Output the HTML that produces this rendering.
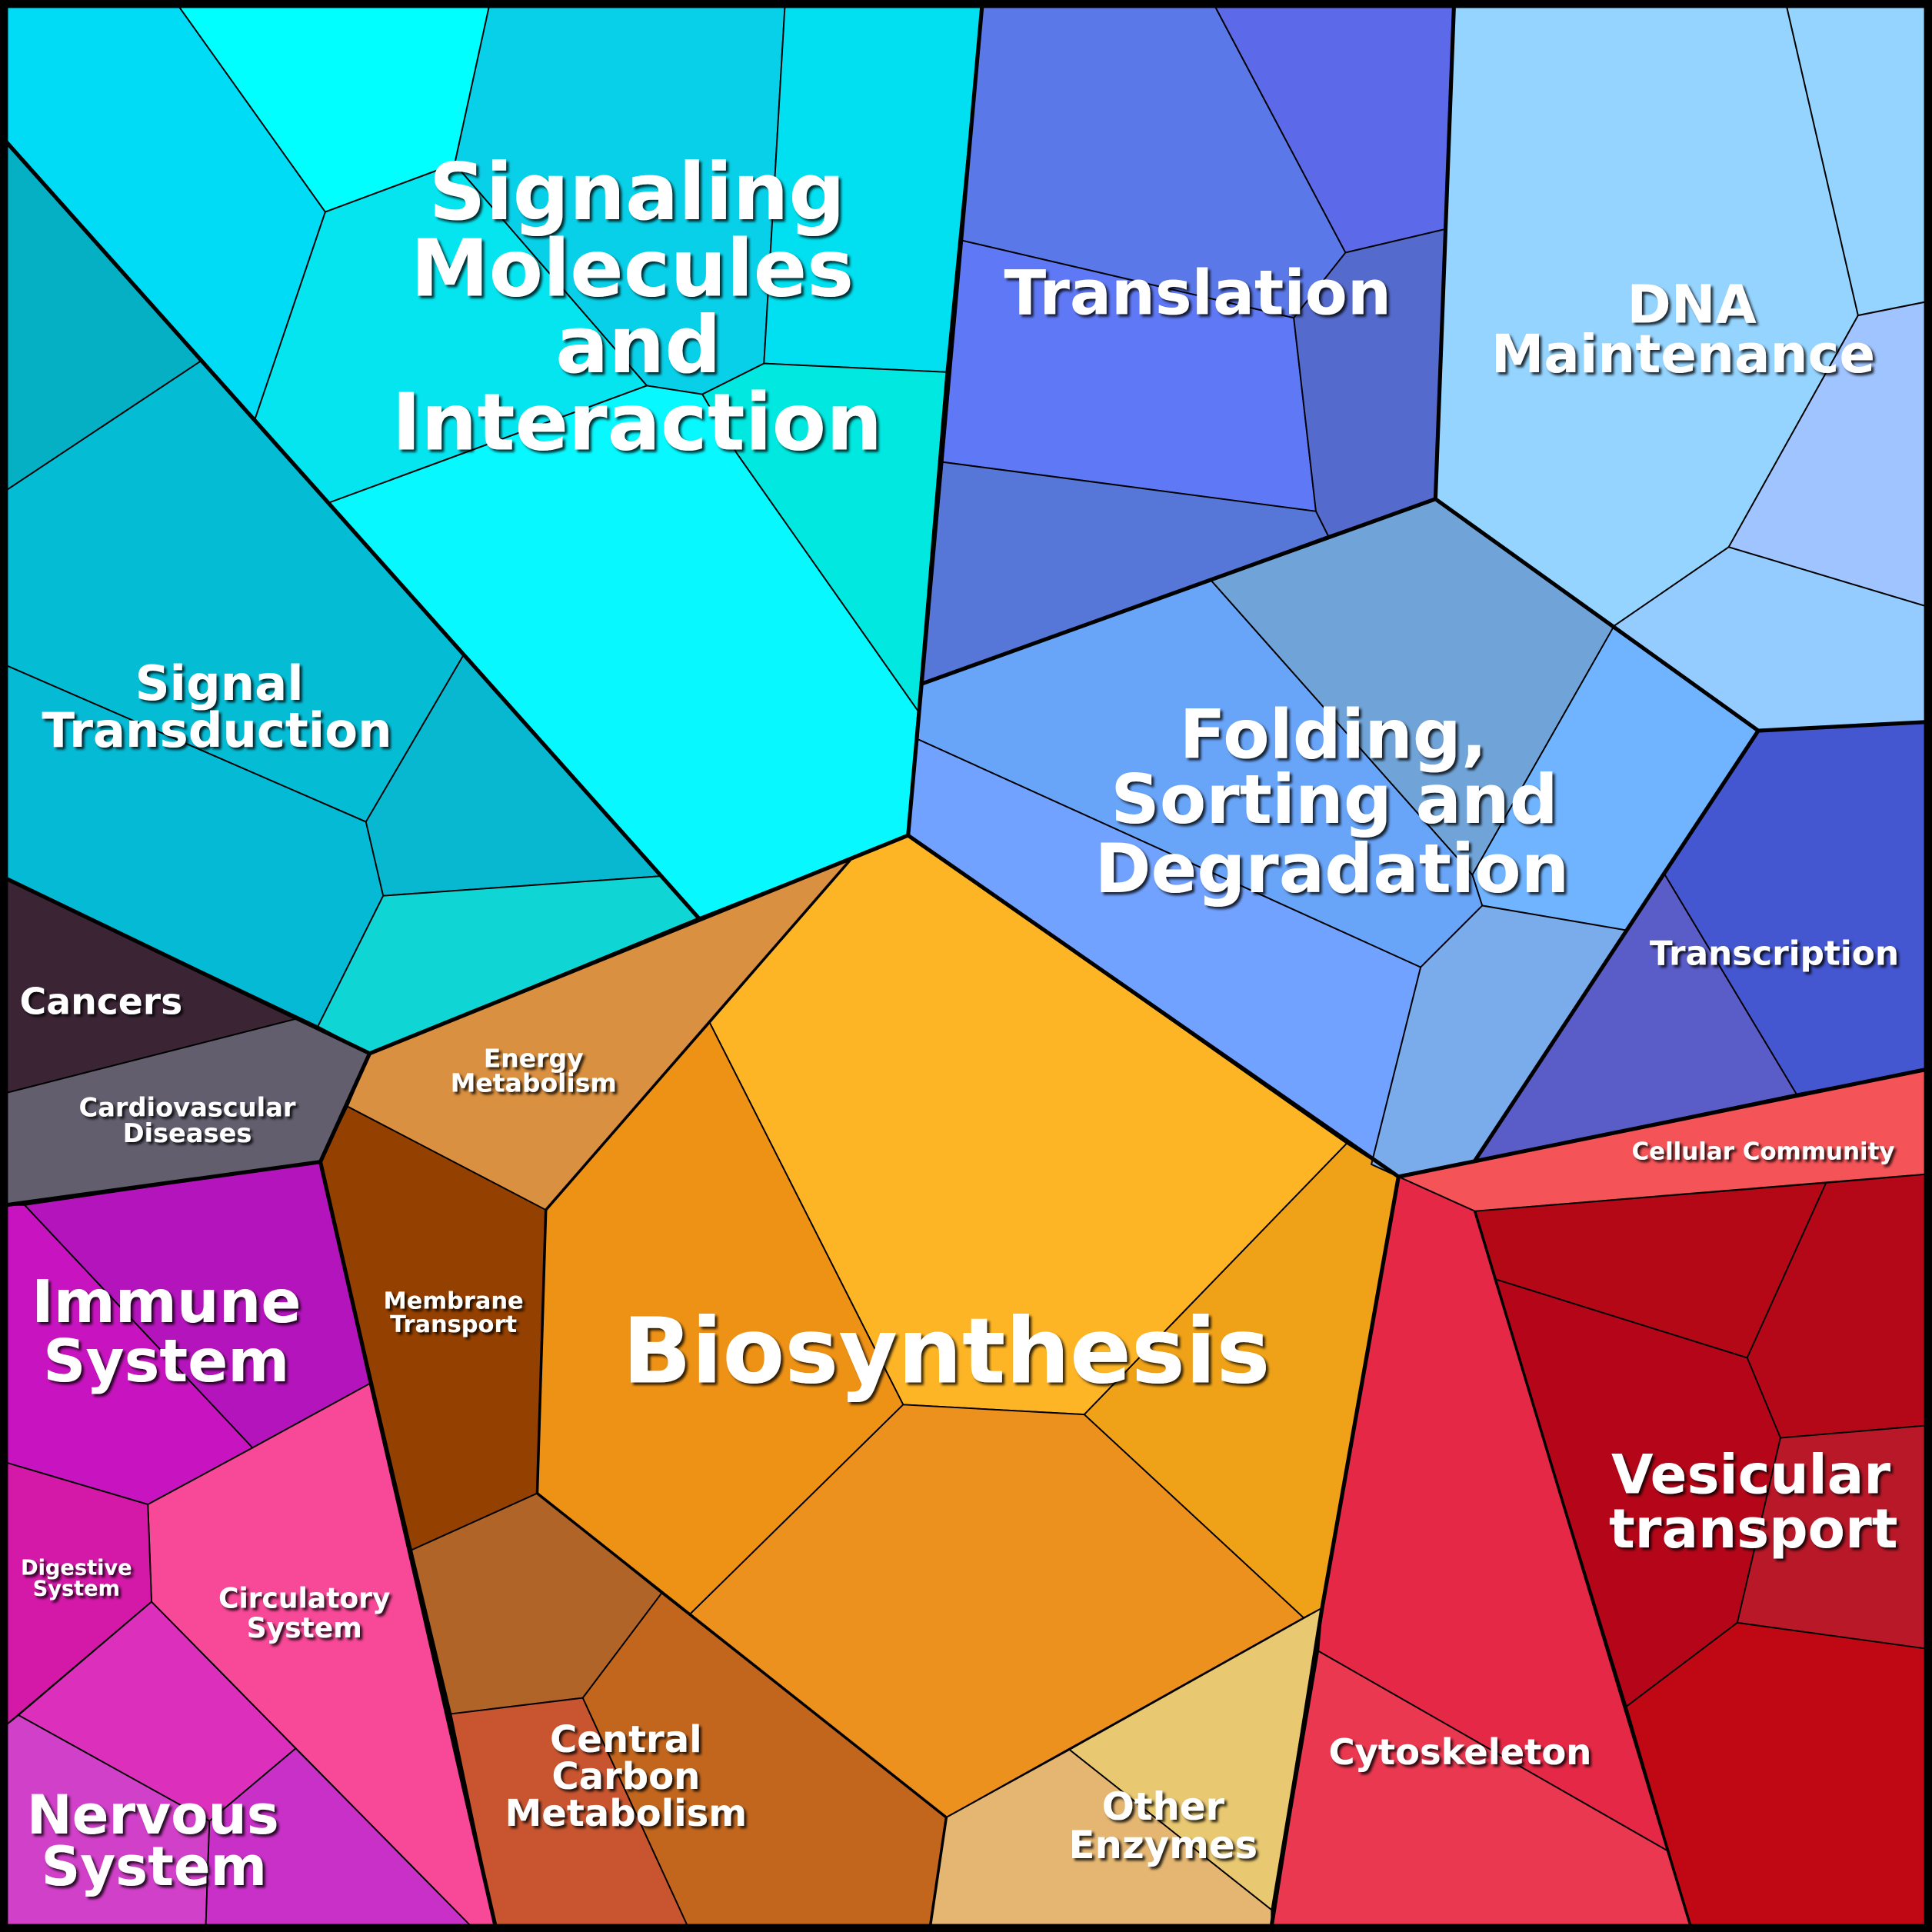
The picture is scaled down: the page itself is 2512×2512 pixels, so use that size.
<!DOCTYPE html>
<html><head><meta charset="utf-8"><style>
html,body{margin:0;padding:0;background:#000}
svg{display:block}
text{font-family:"DejaVu Sans","Liberation Sans",sans-serif;font-weight:bold;fill:#fff;text-anchor:middle}
</style></head><body>
<svg width="2512" height="2512" viewBox="0 0 1568 1568" xmlns="http://www.w3.org/2000/svg">
<defs><filter id="sh" x="-10%" y="-10%" width="120%" height="130%"><feDropShadow dx="2" dy="2" stdDeviation="1" flood-color="#000" flood-opacity="0.8"/></filter></defs>
<rect width="1568" height="1568" fill="#000"/>
<g stroke="#000" stroke-width="1.2" stroke-linejoin="round">
<polygon fill="#00dcf5" points="5,5 145,5 264,172 207,340 163,293 5,115"/>
<polygon fill="#00ffff" points="145,5 397,5 369,133 264,172"/>
<polygon fill="#05e5f0" points="264,172 369,133 525,313 267,408 207,340"/>
<polygon fill="#08d0e8" points="369,133 397,5 637,5 620,295 570,320 525,313"/>
<polygon fill="#00e0f0" points="637,5 797,5 768,302 620,295"/>
<polygon fill="#00e8e0" points="620,295 768,302 745,577 598,368 570,320"/>
<polygon fill="#08f8ff" points="267,408 525,313 570,320 598,368 745,577 737,678 567,745"/>
<polygon fill="#05b0c5" points="5,115 163,293 5,398"/>
<polygon fill="#05bcd5" points="5,398 163,293 376,532 297,667 5,540"/>
<polygon fill="#05bad5" points="5,540 297,667 311,727 258,833 5,713"/>
<polygon fill="#08b8d0" points="376,532 537,711 311,727 297,667"/>
<polygon fill="#10d5d5" points="311,727 537,711 567,745 300,855 258,833"/>
<polygon fill="#3b2535" points="5,713 240,827 5,887"/>
<polygon fill="#625e6e" points="5,887 240,827 300,855 260,943 5,978"/>
<polygon fill="#c814c0" points="5,978 20,978 205,1175 120,1221 5,1187"/>
<polygon fill="#b414bc" points="20,978 260,943 300,1123 205,1175"/>
<polygon fill="#f84898" points="120,1221 205,1175 300,1123 402,1563 382,1563 123,1300"/>
<polygon fill="#d418a8" points="5,1187 120,1221 123,1300 5,1400"/>
<polygon fill="#dc30bc" points="123,1300 240,1419 170,1478 15,1392"/>
<polygon fill="#d040c8" points="5,1400 15,1392 170,1478 167,1563 5,1563"/>
<polygon fill="#c830c8" points="170,1478 240,1419 382,1563 167,1563"/>
<polygon fill="#d99040" points="300,855 567,745 690,698 443,982 282,898"/>
<polygon fill="#944000" points="282,898 443,982 436,1212 334,1258 260,943"/>
<polygon fill="#b06428" points="334,1258 436,1212 537,1293 473,1378 366,1391"/>
<polygon fill="#c85530" points="366,1391 473,1378 558,1563 402,1563"/>
<polygon fill="#c2661e" points="473,1378 537,1293 768,1475 755,1563 558,1563"/>
<polygon fill="#fdb526" points="690,698 737,678 1093,928 880,1148 733,1140 576,830"/>
<polygon fill="#ee9216" points="443,982 576,830 733,1140 560,1310 436,1212"/>
<polygon fill="#efa218" points="1093,928 1135,955 1073,1305 1058,1313 880,1148"/>
<polygon fill="#ec901e" points="560,1310 733,1140 880,1148 1058,1313 768,1475"/>
<polygon fill="#e4b672" points="768,1475 868,1420 1032,1550 1032,1563 755,1563"/>
<polygon fill="#e8c870" points="868,1420 1073,1305 1032,1550"/>
<polygon fill="#5a78e8" points="797,5 986,5 1092,205 1050,258 780,195"/>
<polygon fill="#5c6aea" points="986,5 1180,5 1173,186 1092,205"/>
<polygon fill="#5f78f5" points="780,195 1050,258 1068,415 765,375"/>
<polygon fill="#546acc" points="1050,258 1092,205 1173,186 1165,405 1078,435 1068,415"/>
<polygon fill="#5676d8" points="765,375 1068,415 1078,435 748,555"/>
<polygon fill="#94d4ff" points="1180,5 1450,5 1508,256 1403,444 1310,508 1165,405"/>
<polygon fill="#94d4ff" points="1450,5 1563,5 1563,245 1508,256"/>
<polygon fill="#a0c4ff" points="1508,256 1563,245 1563,492 1403,444"/>
<polygon fill="#94ccff" points="1403,444 1563,492 1563,586 1427,593 1310,508"/>
<polygon fill="#68a4f8" points="745,600 748,555 982,470 1195,710 1203,735 1153,785"/>
<polygon fill="#70a4d8" points="982,470 1165,405 1310,508 1195,710"/>
<polygon fill="#70b4ff" points="1310,508 1427,593 1320,755 1203,735 1195,710"/>
<polygon fill="#72a2ff" points="737,678 745,600 1153,785 1113,945 1135,955"/>
<polygon fill="#7aacec" points="1153,785 1203,735 1320,755 1197,942 1135,955 1113,945"/>
<polygon fill="#4456d0" points="1427,593 1563,586 1563,868 1458,888 1350,708"/>
<polygon fill="#5a5cc8" points="1350,708 1458,888 1197,942 1320,755"/>
<polygon fill="#f45458" points="1135,955 1197,942 1458,888 1563,868 1563,953 1197,983"/>
<polygon fill="#e42846" points="1135,955 1197,983 1355,1503 1070,1340 1073,1305"/>
<polygon fill="#ea3850" points="1070,1340 1355,1503 1372,1563 1032,1563"/>
<polygon fill="#b40816" points="1197,983 1482,960 1418,1102 1213,1038"/>
<polygon fill="#b40818" points="1482,960 1563,953 1563,1157 1445,1167 1418,1102"/>
<polygon fill="#b40618" points="1213,1038 1418,1102 1445,1167 1410,1317 1320,1385"/>
<polygon fill="#b81828" points="1445,1167 1563,1157 1563,1338 1410,1317"/>
<polygon fill="#c00814" points="1320,1385 1410,1317 1563,1338 1563,1563 1372,1563"/>
</g>
<g stroke="#000" fill="none" stroke-width="2.2" stroke-linejoin="round">
<polyline points="436,1212 443,982 690,698"/>
<polyline points="436,1212 768,1475 755,1563"/>
<polyline points="1197,983 1372,1563"/>
</g>
<g stroke="#000" fill="none" stroke-width="3.2" stroke-linejoin="round">
<polyline points="5,115 567,745"/>
<polyline points="797,5 737,678 300,855"/>
<polyline points="5,713 300,855 260,943 5,978"/>
<polyline points="260,943 402,1563"/>
<polyline points="737,678 1135,955 1073,1305 1032,1563"/>
<polyline points="748,555 1165,405 1180,5"/>
<polyline points="1165,405 1427,593 1563,586"/>
<polyline points="1427,593 1197,942"/>
<polyline points="1135,955 1563,868"/>
</g>
<rect x="3" y="3" width="1562" height="1562" fill="none" stroke="#000" stroke-width="7"/>
<g filter="url(#sh)">
<text font-size="64"><tspan x="517" y="178">Signaling</tspan><tspan x="513" y="240">Molecules</tspan><tspan x="518" y="302">and</tspan><tspan x="517" y="365">Interaction</tspan></text>
<text font-size="50" x="972" y="255">Translation</text>
<text font-size="43"><tspan x="1373" y="262">DNA</tspan><tspan x="1366" y="302">Maintenance</tspan></text>
<text font-size="55"><tspan x="1082" y="615">Folding,</tspan><tspan x="1083" y="668">Sorting and</tspan><tspan x="1081" y="724">Degradation</tspan></text>
<text font-size="39"><tspan x="178" y="568">Signal</tspan><tspan x="176" y="606">Transduction</tspan></text>
<text font-size="29.5" x="82" y="823">Cancers</text>
<text font-size="21"><tspan x="152" y="906">Cardiovascular</tspan><tspan x="152" y="927">Diseases</tspan></text>
<text font-size="20.6"><tspan x="433" y="866">Energy</tspan><tspan x="433" y="886">Metabolism</tspan></text>
<text font-size="19"><tspan x="368" y="1062">Membrane</tspan><tspan x="368" y="1081">Transport</tspan></text>
<text font-size="73.5" x="768" y="1122">Biosynthesis</text>
<text font-size="48"><tspan x="135" y="1073">Immune</tspan><tspan x="135" y="1121">System</tspan></text>
<text font-size="17"><tspan x="62" y="1278">Digestive</tspan><tspan x="62" y="1295">System</tspan></text>
<text font-size="22.5"><tspan x="247" y="1305">Circulatory</tspan><tspan x="247" y="1329">System</tspan></text>
<text font-size="44"><tspan x="124" y="1488">Nervous</tspan><tspan x="125" y="1530">System</tspan></text>
<text font-size="30"><tspan x="508" y="1422">Central</tspan><tspan x="508" y="1452">Carbon</tspan><tspan x="508" y="1482">Metabolism</tspan></text>
<text font-size="31"><tspan x="944" y="1477">Other</tspan><tspan x="944" y="1508">Enzymes</tspan></text>
<text font-size="29" x="1185" y="1432">Cytoskeleton</text>
<text font-size="44"><tspan x="1421" y="1212">Vesicular</tspan><tspan x="1423" y="1256">transport</tspan></text>
<text font-size="27.3" x="1440" y="783">Transcription</text>
<text font-size="19.3" x="1431" y="941">Cellular Community</text>
</g>
</svg>
</body></html>
